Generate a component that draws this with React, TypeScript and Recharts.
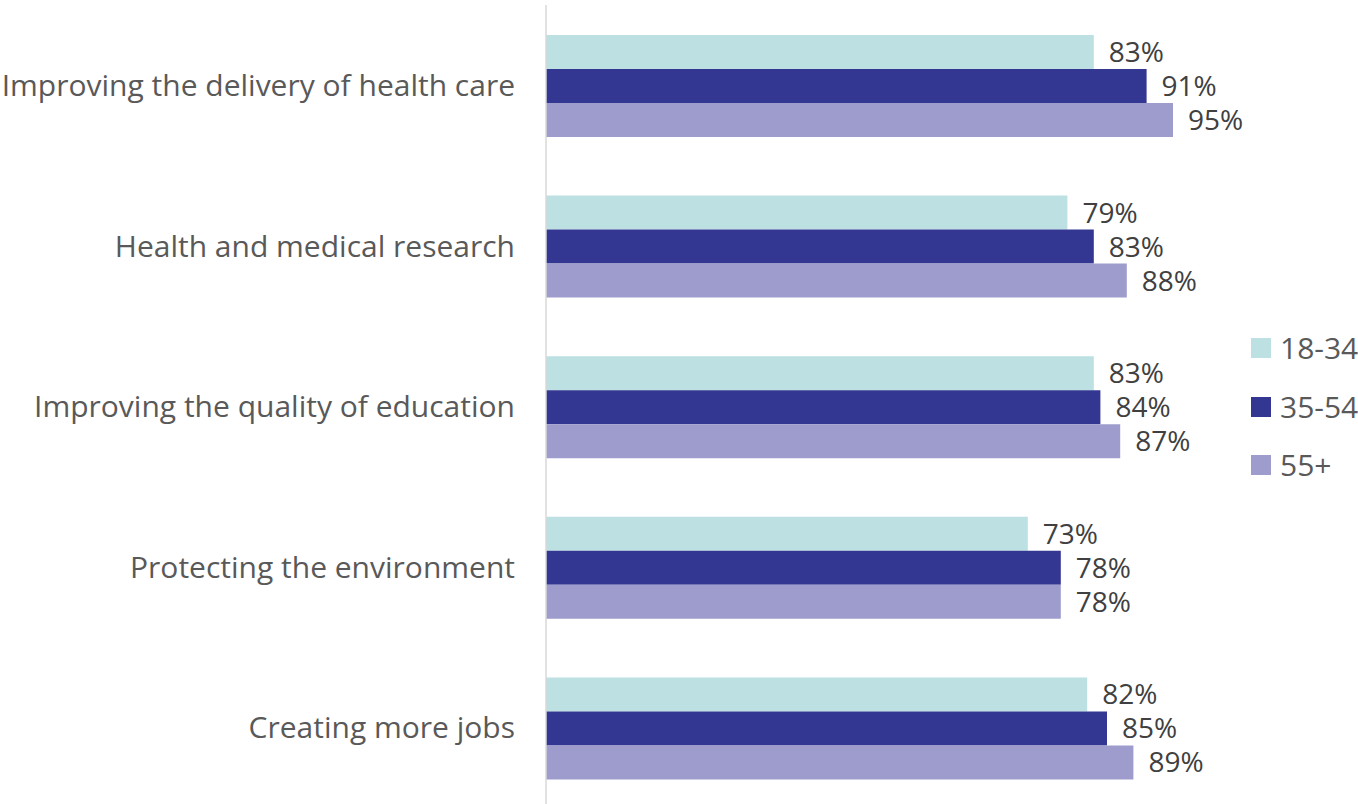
import React from 'react';
import { BarChart, Bar, XAxis, YAxis, LabelList } from 'recharts';

const categories = [
    'Improving the delivery of health care',
    'Health and medical research',
    'Improving the quality of education',
    'Protecting the environment',
    'Creating more jobs',
];
const age18to34 = [83, 79, 83, 73, 82];
const age35to54 = [91, 83, 84, 78, 85];
const age55plus = [95, 88, 87, 78, 89];

const seriesNames = ['18-34', '35-54', '55+'];
const seriesColors = ['#BDE0E3', '#333791', '#9E9CCD'];

const data = categories.map((name, i) => ({
    name,
    a: age18to34[i],
    b: age35to54[i],
    c: age55plus[i],
}));

const FONT = '"Open Sans", Calibri, sans-serif';

export default function App() {
    return (
        <div style={{ position: 'fixed', left: 0, top: 0, width: 1358, height: 804, overflow: 'hidden', background: '#fff', fontFamily: FONT }}>
            <BarChart
                width={1358}
                height={808}
                data={data}
                layout="vertical"
                margin={{ top: 5, right: 152, left: 0, bottom: 0 }}
                barCategoryGap={30}
                barGap={0}
            >
                <XAxis type="number" domain={[0, 100]} hide />
                <YAxis
                    type="category"
                    dataKey="name"
                    width={546}
                    tickLine={false}
                    tickSize={0}
                    tickMargin={31}
                    axisLine={{ stroke: '#d9d9d9', strokeWidth: 1.5 }}
                    tick={{ fill: '#595959', fontSize: 30, fontFamily: FONT }}
                />
                {['a', 'b', 'c'].map((key, i) => (
                    <Bar key={key} dataKey={key} name={seriesNames[i]} fill={seriesColors[i]} isAnimationActive={false}>
                        <LabelList
                            dataKey={key}
                            position="right"
                            offset={15}
                            formatter={(v: number) => `${v}%`}
                            style={{ fill: '#404040', fontSize: 28, fontFamily: FONT }}
                        />
                    </Bar>
                ))}
            </BarChart>
            <div style={{ position: 'absolute', left: 1251, top: 333, width: 107 }}>
                {seriesNames.map((name, i) => (
                    <div key={name} style={{ display: 'flex', alignItems: 'center', height: 30, marginBottom: 28.5, whiteSpace: 'nowrap' }}>
                        <div style={{ width: 20, height: 20, flex: '0 0 20px', background: seriesColors[i], marginRight: 9 }} />
                        <span style={{ color: '#595959', fontSize: 30, lineHeight: '30px' }}>{name}</span>
                    </div>
                ))}
            </div>
        </div>
    );
}
